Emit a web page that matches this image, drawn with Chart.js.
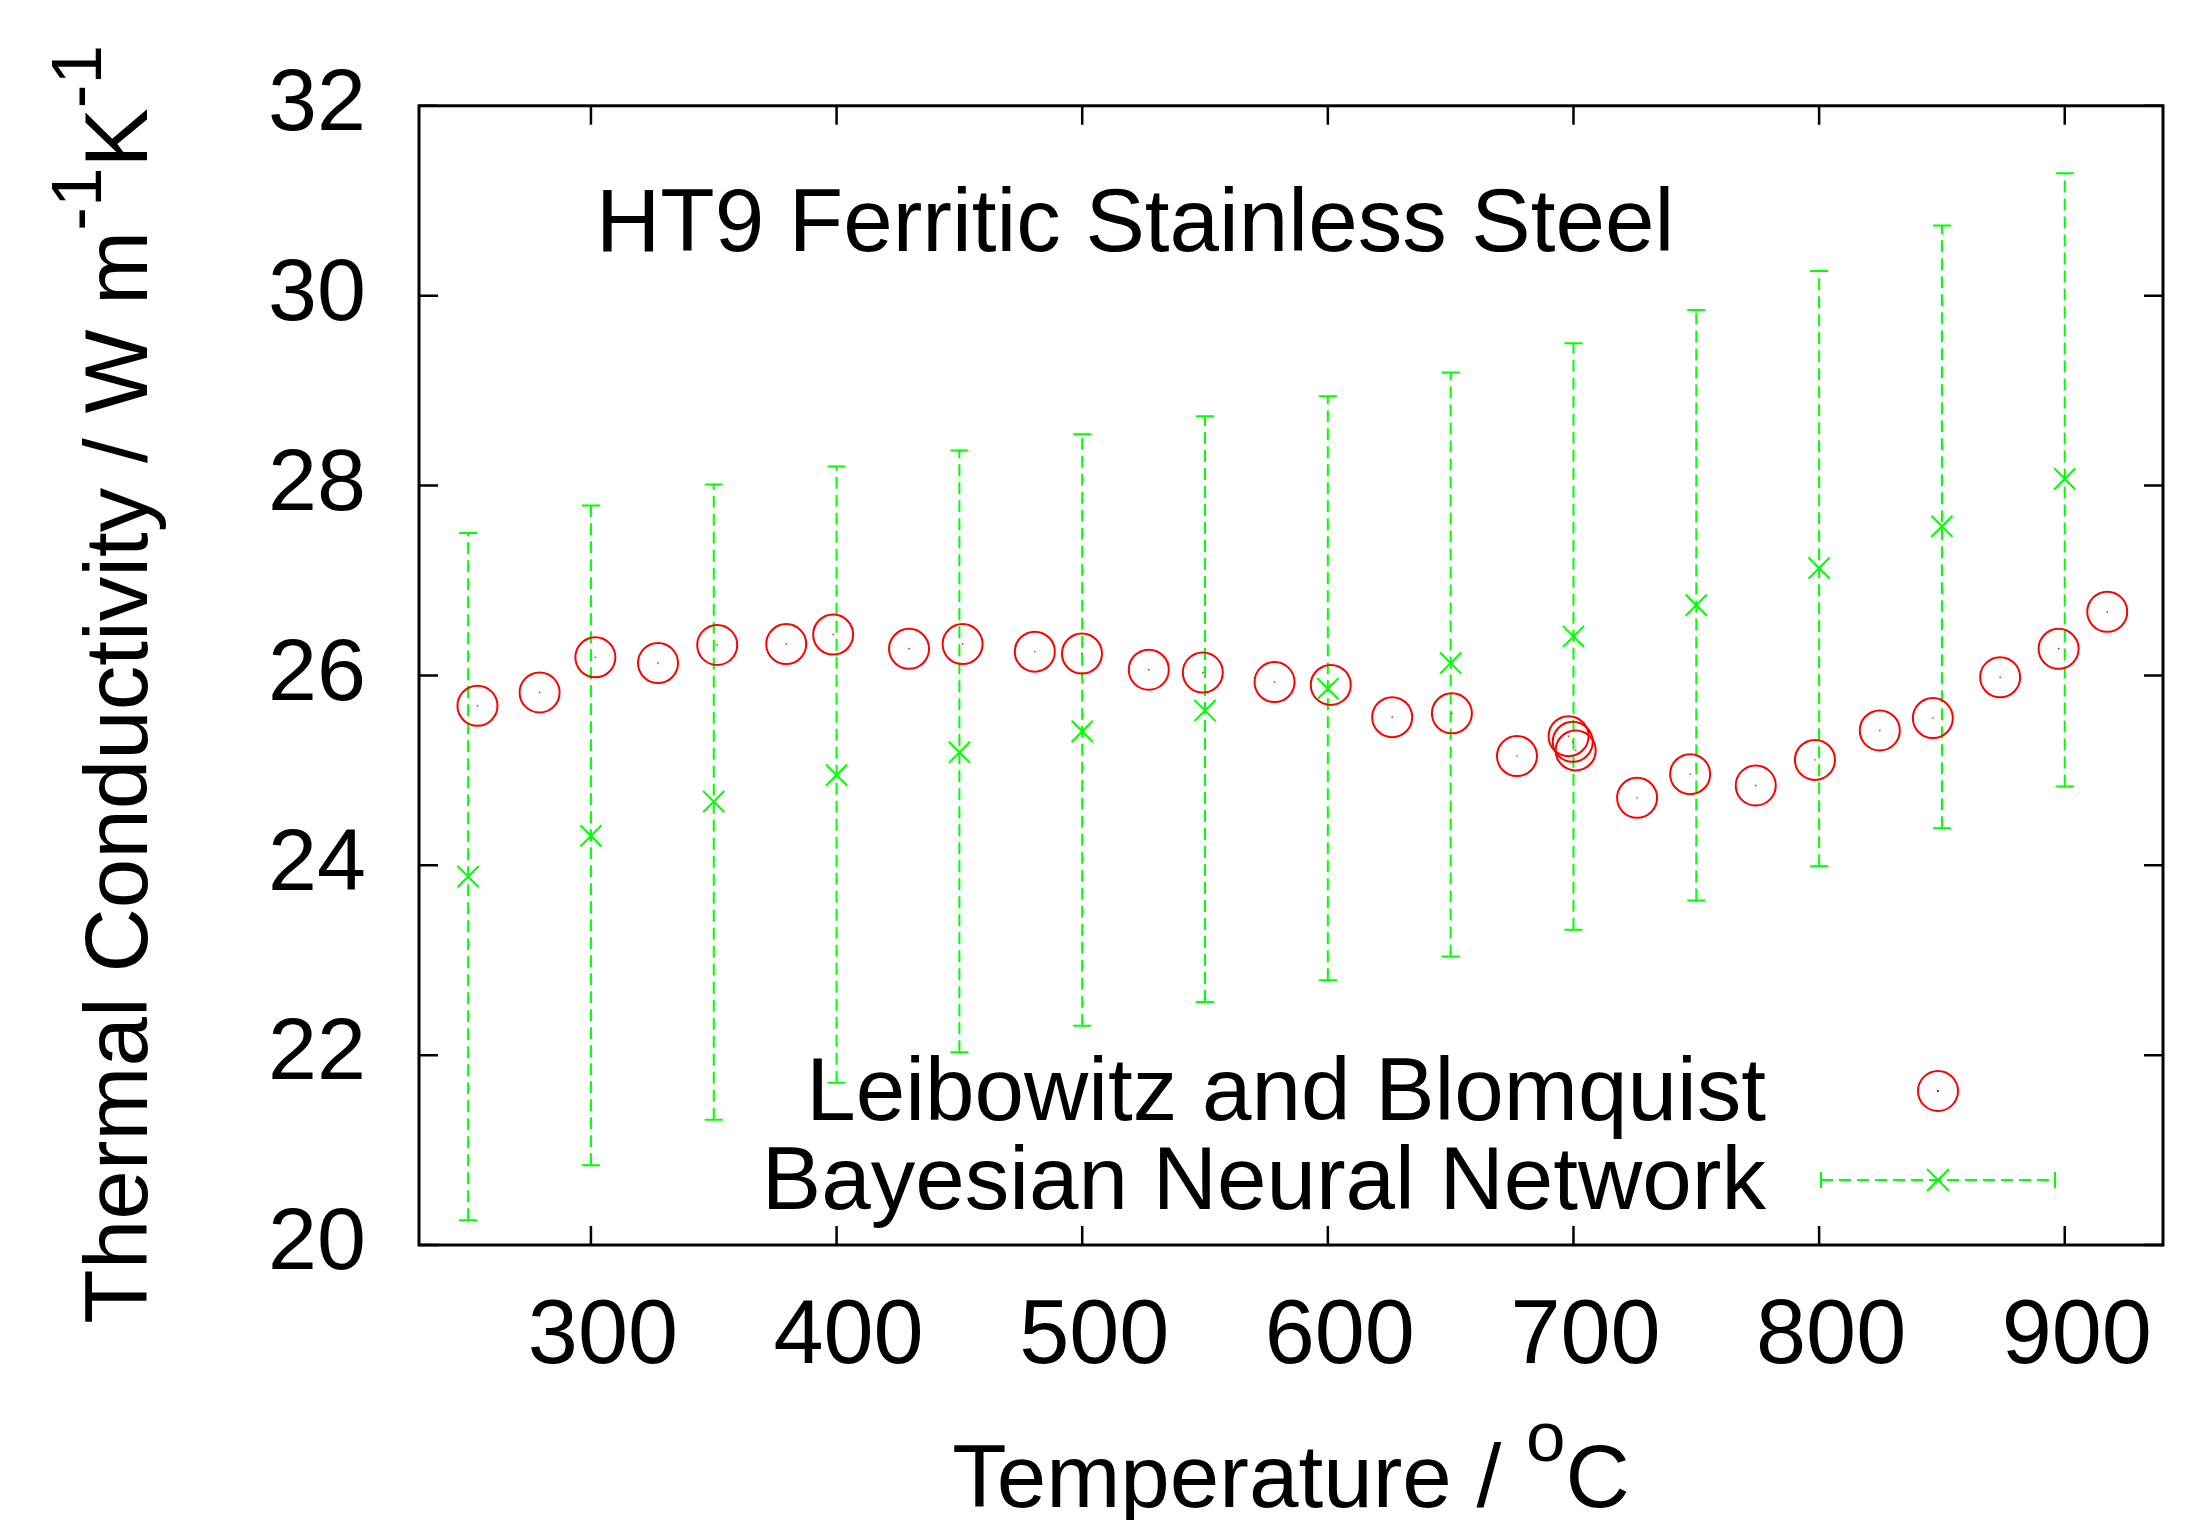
<!DOCTYPE html>
<html>
<head>
<meta charset="utf-8">
<title>HT9 Ferritic Stainless Steel</title>
<script src="https://cdn.jsdelivr.net/npm/chart.js@4.4.0/dist/chart.umd.min.js"></script>
<style>
  html, body { margin: 0; padding: 0; background: #fff; }
  #wrap { width: 2193px; height: 1520px; }
</style>
</head>
<body>
<div id="wrap"><canvas id="chart" width="2193" height="1520"></canvas></div>
<script>
// Leibowitz and Blomquist measurements (deg C, W m-1 K-1)
const lbTemp = [253.8, 279.1, 301.8, 327.3, 351.4, 379.5, 398.6, 429.5, 451.3, 480.7,
                499.9, 527.1, 549.1, 578.3, 601.2, 626.2, 650.5, 677.0, 698.0, 699.7,
                700.9, 725.9, 747.5, 774.2, 798.3, 824.7, 846.3, 873.7, 897.5, 917.3];
const lbK = [25.68, 25.82, 26.19, 26.13, 26.32, 26.33, 26.43, 26.28, 26.33, 26.25,
             26.23, 26.06, 26.03, 25.93, 25.90, 25.56, 25.60, 25.15, 25.36, 25.30,
             25.21, 24.71, 24.96, 24.84, 25.11, 25.42, 25.55, 25.98, 26.28, 26.67];

// Bayesian neural network prediction + error bar limits
const bnnTemp = [250, 300, 350, 400, 450, 500, 550, 600, 650, 700, 750, 800, 850, 900];
const bnnK = [23.88, 24.31, 24.67, 24.95, 25.19, 25.41, 25.63, 25.86, 26.13, 26.41, 26.74, 27.13, 27.57, 28.07];
const bnnLow = [20.26, 20.84, 21.32, 21.71, 22.03, 22.31, 22.56, 22.79, 23.04, 23.32, 23.63, 23.99, 24.39, 24.83];
const bnnHigh = [27.50, 27.79, 28.01, 28.20, 28.37, 28.54, 28.73, 28.94, 29.19, 29.50, 29.85, 30.26, 30.74, 31.29];

const xTicks = [300, 400, 500, 600, 700, 800, 900];
const yTicks = [20, 22, 24, 26, 28, 30, 32];

const FONT = '"Liberation Sans", Arial, Helvetica, sans-serif';
const FS = 89;
const RED = '#ff0000';
const GREEN = '#00ff00';

// draw text with superscript pieces, aligned on (x, y) baseline
function drawRich(ctx, parts, x, y, align) {
  const widths = parts.map(p => {
    ctx.font = (p.sup ? Math.round(FS * 0.8) : FS) + 'px ' + FONT;
    return ctx.measureText(p.t).width;
  });
  const total = widths.reduce((a, b) => a + b, 0);
  let cx = align === 'center' ? x - total / 2 : align === 'right' ? x - total : x;
  ctx.textAlign = 'left';
  ctx.textBaseline = 'alphabetic';
  parts.forEach((p, i) => {
    ctx.font = (p.sup ? Math.round(FS * 0.8) : FS) + 'px ' + FONT;
    ctx.fillText(p.t, cx, p.sup ? y - 46 : y);
    cx += widths[i];
  });
}

const errorBars = {
  id: 'errorBars',
  beforeDatasetsDraw(chart) {
    const { ctx, scales: { x, y } } = chart;
    ctx.save();
    ctx.strokeStyle = GREEN;
    ctx.lineWidth = 2;
    bnnTemp.forEach((t, i) => {
      const px = x.getPixelForValue(t);
      const lo = y.getPixelForValue(bnnLow[i]);
      const hi = y.getPixelForValue(bnnHigh[i]);
      ctx.setLineDash([12, 6]);
      ctx.beginPath();
      ctx.moveTo(px, lo);
      ctx.lineTo(px, hi);
      ctx.stroke();
      ctx.setLineDash([]);
      ctx.beginPath();
      ctx.moveTo(px - 9, lo); ctx.lineTo(px + 9, lo);
      ctx.moveTo(px - 9, hi); ctx.lineTo(px + 9, hi);
      ctx.stroke();
    });
    ctx.restore();
  }
};

const frameAndText = {
  id: 'frameAndText',
  afterDraw(chart) {
    const { ctx, chartArea: a, scales: { x, y } } = chart;
    ctx.save();
    // border + inward ticks on all four sides
    ctx.strokeStyle = '#000';
    ctx.lineWidth = 3;
    ctx.strokeRect(a.left, a.top, a.right - a.left, a.bottom - a.top);
    ctx.lineWidth = 2.5;
    ctx.beginPath();
    xTicks.forEach(v => {
      const px = x.getPixelForValue(v);
      ctx.moveTo(px, a.bottom); ctx.lineTo(px, a.bottom - 19);
      ctx.moveTo(px, a.top); ctx.lineTo(px, a.top + 19);
    });
    yTicks.forEach(v => {
      const py = y.getPixelForValue(v);
      ctx.moveTo(a.left, py); ctx.lineTo(a.left + 19, py);
      ctx.moveTo(a.right, py); ctx.lineTo(a.right - 19, py);
    });
    ctx.stroke();

    ctx.fillStyle = '#000';
    // title inside the plot
    drawRich(ctx, [{ t: 'HT9 Ferritic Stainless Steel' }], a.left + 177, a.top + 145, 'left');

    // x axis title
    drawRich(ctx, [{ t: 'Temperature / ' }, { t: 'o', sup: true }, { t: 'C' }],
      (a.left + a.right) / 2, a.bottom + 262, 'center');

    // y axis title, rotated
    ctx.save();
    ctx.translate(a.left - 272, (a.top + a.bottom) / 2 + 9);
    ctx.rotate(-Math.PI / 2);
    drawRich(ctx, [{ t: 'Thermal Conductivity / W m' }, { t: '-1', sup: true }, { t: 'K' }, { t: '-1', sup: true }],
      0, 0, 'center');
    ctx.restore();

    // legend
    const tx = a.right - 397;
    const b1 = a.bottom - 125, b2 = a.bottom - 36;
    drawRich(ctx, [{ t: 'Leibowitz and Blomquist' }], tx, b1, 'right');
    drawRich(ctx, [{ t: 'Bayesian Neural Network' }], tx, b2, 'right');
    const sx = a.right - 225;
    ctx.strokeStyle = RED;
    ctx.lineWidth = 2;
    ctx.beginPath();
    ctx.arc(sx, b1 - 29, 20, 0, Math.PI * 2);
    ctx.stroke();
    ctx.fillStyle = RED;
    ctx.fillRect(sx - 1, b1 - 30, 2, 2);
    ctx.strokeStyle = GREEN;
    ctx.setLineDash([12, 6]);
    ctx.beginPath();
    ctx.moveTo(sx - 117, b2 - 29); ctx.lineTo(sx + 117, b2 - 29);
    ctx.stroke();
    ctx.setLineDash([]);
    ctx.beginPath();
    ctx.moveTo(sx - 117, b2 - 37); ctx.lineTo(sx - 117, b2 - 21);
    ctx.moveTo(sx + 117, b2 - 37); ctx.lineTo(sx + 117, b2 - 21);
    ctx.moveTo(sx - 11, b2 - 40); ctx.lineTo(sx + 11, b2 - 18);
    ctx.moveTo(sx + 11, b2 - 40); ctx.lineTo(sx - 11, b2 - 18);
    ctx.stroke();
    ctx.restore();
  }
};

const ctx = document.getElementById('chart').getContext('2d');
new Chart(ctx, {
  type: 'scatter',
  data: {
    datasets: [
      {
        label: 'Bayesian Neural Network',
        data: bnnTemp.map((t, i) => ({ x: t, y: bnnK[i] })),
        pointStyle: 'crossRot',
        pointRadius: 15,
        borderColor: GREEN,
        backgroundColor: GREEN,
        borderWidth: 2
      },
      {
        label: 'Leibowitz and Blomquist',
        data: lbTemp.map((t, i) => ({ x: t, y: lbK[i] })),
        pointStyle: 'circle',
        pointRadius: 20,
        borderColor: RED,
        backgroundColor: 'rgba(0,0,0,0)',
        borderWidth: 2
      },
      {
        label: 'centre dots',
        data: lbTemp.map((t, i) => ({ x: t, y: lbK[i] })),
        pointStyle: 'rect',
        pointRadius: 1,
        borderWidth: 0,
        backgroundColor: RED
      }
    ]
  },
  options: {
    responsive: false,
    animation: false,
    layout: { padding: { top: 101, right: 30, left: 0, bottom: 0 } },
    plugins: { legend: { display: false }, tooltip: { enabled: false } },
    scales: {
      x: {
        type: 'linear',
        min: 230,
        max: 940,
        afterBuildTicks: s => { s.ticks = xTicks.map(v => ({ value: v })); },
        afterFit: s => { s.height = 275; },
        grid: { display: false, drawTicks: false },
        border: { display: false },
        ticks: { autoSkip: false, maxRotation: 0, color: '#000', padding: 39, labelOffset: 12, font: { family: FONT, size: 90 } }
      },
      y: {
        type: 'linear',
        min: 20,
        max: 32,
        afterBuildTicks: s => { s.ticks = yTicks.map(v => ({ value: v })); },
        afterFit: s => { s.width = 419; },
        grid: { display: false, drawTicks: false },
        border: { display: false },
        ticks: { color: '#000', padding: 53, font: { family: FONT, size: 88 } }
      }
    }
  },
  plugins: [errorBars, frameAndText]
});
</script>
</body>
</html>
